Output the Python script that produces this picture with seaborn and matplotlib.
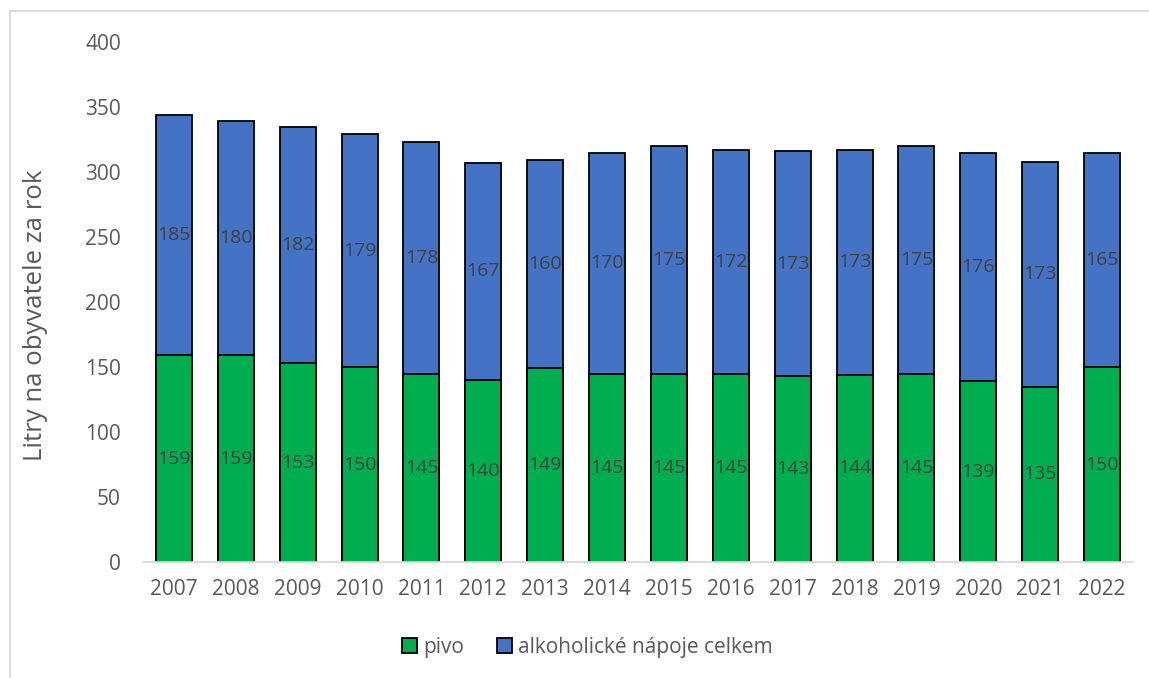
import matplotlib
matplotlib.use("Agg")
import matplotlib.pyplot as plt
import seaborn as sns
import pandas as pd
import numpy as np
from matplotlib.patches import Rectangle, Patch

years = ["2007", "2008", "2009", "2010", "2011", "2012", "2013", "2014",
         "2015", "2016", "2017", "2018", "2019", "2020", "2021", "2022"]
pivo = [159, 159, 153, 150, 145, 140, 149, 145, 145, 145, 143, 144, 145, 139, 135, 150]
alkohol = [185, 180, 182, 179, 178, 167, 160, 170, 175, 172, 173, 173, 175, 176, 173, 165]

green = "#00ad4f"
blue = "#4472c4"
txt = "#595959"

sns.set_theme(style="white")
plt.rcParams["font.family"] = ["Open Sans", "DejaVu Sans"]

df = pd.DataFrame({"rok": years, "pivo": pivo, "alkohol": alkohol})
df["celkem"] = df["pivo"] + df["alkohol"]

fig = plt.figure(figsize=(11.49, 6.78), dpi=100)
ax = fig.add_axes([143 / 1149, 1 - 562 / 678, (1133 - 143) / 1149, (562 - 42) / 678])

sns.barplot(data=df, x="rok", y="celkem", color=blue, saturation=1, width=0.58,
            edgecolor="black", linewidth=1.3, ax=ax)
sns.barplot(data=df, x="rok", y="pivo", color=green, saturation=1, width=0.58,
            edgecolor="black", linewidth=1.3, ax=ax)

for i, (p, a) in enumerate(zip(pivo, alkohol)):
    ax.text(i, p / 2, str(p), ha="center", va="center", fontsize=14, color="#404040")
    ax.text(i, p + a / 2, str(a), ha="center", va="center", fontsize=14, color="#404040")

ax.set_ylim(0, 400)
ax.set_xlim(-0.5, len(years) - 0.5)
ax.set_yticks(range(0, 401, 50))
ax.set_xlabel("")
ax.set_ylabel("Litry na obyvatele za rok", fontsize=18.5, color=txt)
ax.yaxis.set_label_coords((48 - 143) / 990, 0.475)
ax.tick_params(axis="both", length=0, labelsize=15, labelcolor=txt)
ax.tick_params(axis="x", pad=12)
ax.tick_params(axis="y", pad=16)
for s in ["top", "right", "left"]:
    ax.spines[s].set_visible(False)
ax.spines["bottom"].set_color("#d9d9d9")
ax.spines["bottom"].set_linewidth(1.3)

handles = [Patch(facecolor=green, edgecolor="black", linewidth=1.3, label="pivo"),
           Patch(facecolor=blue, edgecolor="black", linewidth=1.3, label="alkoholické nápoje celkem")]
leg = fig.legend(handles=handles, loc="center", bbox_to_anchor=(0.5 + 13 / 1149, 1 - 647 / 678), ncol=2,
                 frameon=False, fontsize=15, handlelength=0.7, handleheight=0.7,
                 handletextpad=0.3, columnspacing=1.6, labelcolor=txt)

fig.patches.append(Rectangle((10 / 1149, -0.01), 1.2, 1 - 11 / 678 + 0.01, transform=fig.transFigure,
                             fill=False, edgecolor="#d9d9d9", linewidth=1.3))

fig.savefig("out.png", dpi=100)
